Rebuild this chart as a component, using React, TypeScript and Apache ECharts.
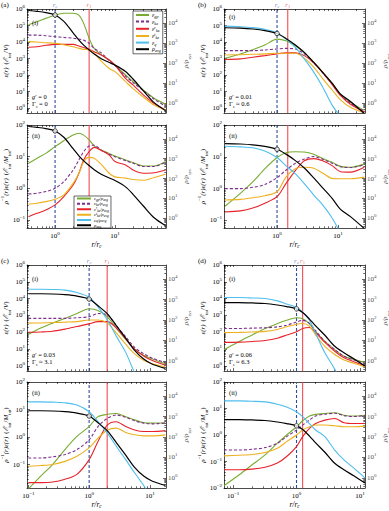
import React, { useEffect, useRef } from 'react';
import * as echarts from 'echarts';

// ---------------- data ----------------
// Panel (a): g' = 0
const xA = [0.36, 0.5, 0.7, 1, 1.4, 2, 2.5, 3, 3.7, 4.5, 6, 8, 10, 15, 20, 30, 45, 70];
const gpA1 = [1.1e5, 1.7e5, 2.7e5, 4.3e5, 5.5e5, 5.5e5, 4.3e5, 1.35e5, 1.7e4, 4.1e3, 1.6e3, 810, 400, 100, 40, 12, 3.9, 1.7];
const keA1 = [2.6e4, 2.6e4, 2.4e4, 2.1e4, 1.9e4, 1.7e4, 1.5e4, 1.3e4, 8.3e3, 4.1e3, 2.1e3, 740, 370, 87, 35, 11, 3.4, 1.3];
const kerA1 = [4.8e3, 5.2e3, 6.3e3, 7.2e3, 7.2e3, 7.2e3, 5.7e3, 4.6e3, 3.6e3, 2.6e3, 1.6e3, 810, 400, 63, 25, 6.1, 1.9, 0.76];
const ketA1 = [1.05e4, 1.0e4, 9.1e3, 8.3e3, 6.9e3, 5.2e3, 4.1e3, 3.6e3, 3.3e3, 2.1e3, 650, 250, 160, 40, 15, 4.5, 1.5, 0.76];
const qA1: number[] = [];
const rhoA = [4.2e4, 3.8e4, 3.3e4, 2.5e4, 1.2e4, 3.2e3, 1.4e3, 780, 450, 280, 160, 107, 79, 38, 16, 4.0, 1.05, 0.42];
const gpA2 = [6.2, 8.9, 12.7, 20.7, 32, 48, 55, 48, 34, 22, 16, 12.7, 10.5, 7.9, 6.5, 5.1, 5.1, 7.0];
const keA2 = [0.66, 0.7, 0.79, 1.0, 1.63, 3.8, 7.9, 14.4, 21.7, 23, 15.5, 12, 10, 7.5, 6.2, 4.9, 4.9, 6.8];
const kerA2 = [0.127, 0.163, 0.207, 0.3, 0.55, 1.27, 3.0, 7.9, 14.4, 19.7, 15.5, 11.3, 7.0, 5.5, 3.8, 3.0, 3.1, 3.8];
const ketA2 = [0.32, 0.34, 0.38, 0.45, 0.62, 1.44, 3.0, 7.0, 9.5, 8.9, 5.5, 3.0, 2.3, 2.1, 1.9, 1.8, 2.2, 2.8];
const qA2: number[] = [];

// Panel (b): g' = 0.01
const xB = [0.14, 0.25, 0.4, 0.63, 1, 1.4, 2, 2.8, 4, 5.6, 8, 11, 16, 27];
const gpB1 = [1.05e3, 1.9e3, 3.4e3, 6.5e3, 1.5e4, 1.2e4, 5.9e3, 2.2e3, 600, 150, 31, 6.8, 2.2, 0.72];
const keB1 = [3.0e3, 3.0e3, 3.0e3, 3.3e3, 3.8e3, 4.1e3, 3.8e3, 1.9e3, 550, 140, 28, 6.2, 1.95, 0.63];
const kerB1 = [870, 950, 1.2e3, 1.5e3, 1.9e3, 2.2e3, 2.2e3, 1.5e3, 550, 140, 27, 5.6, 1.7, 0.57];
const ketB1 = [1.65e3, 1.7e3, 1.8e3, 1.9e3, 2.1e3, 2.1e3, 2.1e3, 1.05e3, 300, 61, 12.4, 3.1, 1.1, 0.5];
const qB1 = [9.2e4, 8.4e4, 7.4e4, 5.8e4, 3.7e4, 1.5e4, 4.7e3, 950, 150, 19, 1.5, 0.3, 0.05, 0.01];
const rhoB = [5.8e3, 5.5e3, 5.0e3, 4.2e3, 3.0e3, 1.7e3, 800, 340, 107, 34, 10, 2.8, 1.2, 0.3];
const gpB2 = [0.28, 0.71, 1.62, 4.2, 9.5, 13.5, 14.5, 14.2, 12.0, 8.8, 6.7, 5.0, 4.7, 5.9];
const keB2 = [1.0, 1.0, 1.1, 1.35, 2.2, 3.8, 6.3, 8.5, 10.2, 8.4, 6.3, 4.9, 4.6, 5.7];
const kerB2 = [0.185, 0.2, 0.245, 0.35, 0.56, 1.44, 3.7, 7.5, 8.8, 7.5, 5.3, 3.4, 3.3, 4.7];
const ketB2 = [0.44, 0.46, 0.52, 0.6, 0.8, 2.3, 4.2, 4.7, 4.4, 3.1, 2.1, 2.05, 2.05, 2.3];
const qB2 = [21.6, 20.6, 19.2, 15.2, 9.5, 5.3, 2.9, 1.44, 0.63, 0.31, 0.12, 0.04, 0.01, 0.003];

// Panel (c): g' = 0.03
const xC = [0.1, 0.16, 0.25, 0.4, 0.63, 1, 1.4, 2, 2.8, 4, 5.6, 8, 11, 18];
const gpC1 = [73, 178, 350, 670, 1.3e3, 2.5e3, 2.0e3, 830, 178, 38, 10, 4.2, 2.6, 1.35];
const keC1 = [670, 670, 670, 670, 730, 840, 1.3e3, 1.05e3, 240, 54, 12.6, 5.2, 2.9, 1.55];
const kerC1 = [100, 105, 115, 155, 220, 316, 430, 430, 178, 41, 10, 3.8, 2.1, 1.1];
const ketC1 = [350, 360, 380, 400, 430, 540, 540, 350, 91, 19.5, 5.2, 2.1, 1.35, 0.87];
const qC1 = [3.6e4, 3.6e4, 3.5e4, 3.2e4, 2.3e4, 1.2e4, 3.2e3, 540, 59, 6.4, 0.4, 0.05, 0.01, 0.001];
const rhoC = [1.95e3, 1.95e3, 1.9e3, 1.75e3, 1.5e3, 1.07e3, 500, 200, 54, 13, 3.3, 1.2, 0.69, 0.43];
const gpC2 = [0.013, 0.038, 0.1, 0.35, 1.05, 2.4, 5.5, 6.7, 7.2, 5.5, 4.2, 3.3, 3.2, 3.3];
const keC2 = [0.173, 0.173, 0.19, 0.23, 0.35, 0.79, 2.4, 4.8, 6.3, 5.2, 3.9, 3.2, 3.0, 3.2];
const kerC2 = [0.022, 0.022, 0.023, 0.029, 0.044, 0.15, 0.69, 2.75, 3.6, 2.4, 1.8, 1.58, 1.58, 1.7];
const ketC2 = [0.087, 0.092, 0.1, 0.13, 0.2, 0.4, 0.91, 1.8, 2.1, 1.46, 1.2, 1.1, 1.1, 1.2];
const qC2 = [19, 19, 18.5, 17.5, 14.5, 8.3, 3.6, 1.38, 0.46, 0.15, 0.05, 0.0166, 0.005, 0.001];

// Panel (d): g' = 0.06
const xD = [0.072, 0.125, 0.2, 0.32, 0.5, 0.7, 1, 1.25, 1.6, 2, 2.8, 4, 5.6, 8, 12];
const gpD1 = [9.3, 28.5, 69, 169, 330, 515, 736, 645, 330, 108, 28.5, 9.3, 3.8, 2.46, 1.58];
const keD1 = [169, 169, 177, 185, 211, 264, 412, 515, 330, 124, 28.5, 9.3, 3.8, 2.25, 1.38];
const kerD1 = [25, 26, 28.5, 32.6, 44.5, 69, 108, 169, 193, 95, 25, 7.5, 3.07, 1.8, 1.0];
const ketD1 = [95, 99, 104, 113, 148, 211, 302, 330, 231, 69, 14.6, 4.8, 2.25, 1.44, 0.88];
const qD1 = [1.16e4, 1.16e4, 1.1e4, 1.02e4, 7.4e3, 4.8e3, 3.05e3, 1.57e3, 515, 87, 6.0, 0.65, 0.05, 0.005, 0.001];
const rhoD = [720, 720, 690, 650, 550, 460, 355, 234, 112, 52, 18, 5.2, 2.5, 1.26, 0.56];
const gpD2 = [0.0122, 0.0316, 0.075, 0.178, 0.49, 1.0, 2.05, 3.45, 5.2, 6.0, 6.5, 6.9, 5.6, 5.2, 5.6];
const keD2 = [0.27, 0.27, 0.29, 0.335, 0.49, 0.87, 1.54, 2.37, 3.65, 5.2, 6.1, 6.6, 5.4, 5.0, 5.4];
const kerD2 = [0.049, 0.049, 0.0516, 0.061, 0.087, 0.154, 0.365, 0.87, 1.78, 2.7, 3.65, 4.2, 2.9, 2.7, 2.7];
const ketD2 = [0.163, 0.173, 0.183, 0.218, 0.316, 0.56, 1.0, 1.54, 2.05, 2.37, 2.37, 2.24, 2.05, 2.05, 2.17];
const qD2 = [19.4, 19.4, 18.8, 17.8, 14.5, 11.5, 7.5, 4.9, 2.7, 1.54, 0.87, 0.27, 0.115, 0.056, 0.024];

// vertical markers r_c (=1) and r_1
const rC = 1;
const r1Values = [3.7, 1.5, 1.98, 1.25];
const gPrime = ['0', '0.01', '0.03', '0.06'];
const gammaS = ['= 0', '≈ 0.6', '≈ 3.1', '≈ 6.3'];
const panelLetters = ['(a)', '(b)', '(c)', '(d)'];

// ---------------- styling / layout ----------------
const SERIF = "'Liberation Serif','DejaVu Serif',serif";
const COLORS = ['#77AC30', '#7E2F8E', '#E8222A', '#EDB120', '#4DBEEE'];
const BLUE = '#2E4C9E';
const BLUE_LABEL = '#4a5fb0';
const RED = '#EE3B42';
const KEYS = ['gp', 'ke', 'ker', 'ket', 'q'];

const COLS = [{ left: 27, width: 139 }, { left: 224, width: 141 }];
const ROWS = [
  { top: 9, height: 104 },
  { top: 125, height: 103 },
  { top: 265, height: 106 },
  { top: 382, height: 106 },
];
const Y1 = [0.5, 1e6];
const RHO_RANGE = [0.32, 5e4];

const PANELS = [
  { x: xA, rho: rhoA, s1: [gpA1, keA1, kerA1, ketA1, qA1], s2: [gpA2, keA2, kerA2, ketA2, qA2], xr: [0.34, 71], y2: [0.056, 100], col: 0, row: 0 },
  { x: xB, rho: rhoB, s1: [gpB1, keB1, kerB1, ketB1, qB1], s2: [gpB2, keB2, kerB2, ketB2, qB2], xr: [0.135, 27.7], y2: [0.058, 100], col: 1, row: 0 },
  { x: xC, rho: rhoC, s1: [gpC1, keC1, kerC1, ketC1, qC1], s2: [gpC2, keC2, kerC2, ketC2, qC2], xr: [0.095, 18.4], y2: [0.014, 100], col: 0, row: 1 },
  { x: xD, rho: rhoD, s1: [gpD1, keD1, kerD1, ketD1, qD1], s2: [gpD2, keD2, kerD2, ketD2, qD2], xr: [0.072, 12], y2: [0.01, 100], col: 1, row: 1 },
];

function rich(size: number, color = '#000', lh = 1.5) {
  const small = size * 0.68;
  return {
    i: { fontFamily: SERIF, fontStyle: 'italic', fontSize: size, lineHeight: size * lh, color },
    n: { fontFamily: SERIF, fontSize: size, lineHeight: size * lh, color },
    s: { fontFamily: SERIF, fontStyle: 'italic', fontSize: small, lineHeight: small * 1.1, verticalAlign: 'bottom', color },
    sn: { fontFamily: SERIF, fontSize: small, lineHeight: small * 1.1, verticalAlign: 'bottom', color },
    p: { fontFamily: SERIF, fontSize: small, lineHeight: small * 1.1, verticalAlign: 'top', color },
    pi: { fontFamily: SERIF, fontStyle: 'italic', fontSize: small, lineHeight: small * 1.1, verticalAlign: 'top', color },
  };
}

function tickRich(color = '#000') {
  return {
    b: { fontFamily: SERIF, fontSize: 7, lineHeight: 10, color },
    e: { fontFamily: SERIF, fontSize: 5, lineHeight: 5, verticalAlign: 'top', color },
  };
}
const powFmt = (v: number) => {
  const e = Math.round(Math.log10(v));
  return '{b|10}{e|' + (e < 0 ? '−' + -e : String(e)) + '}';
};

function logTicks(min: number, max: number) {
  const major: number[] = [];
  const minor: number[] = [];
  for (let e = Math.floor(Math.log10(min)); e <= Math.ceil(Math.log10(max)); e++) {
    const p = Math.pow(10, e);
    if (p >= min * 0.999 && p <= max * 1.001) major.push(p);
    for (let k = 2; k < 10; k++) {
      const v = k * p;
      if (v > min && v < max) minor.push(v);
    }
  }
  return { major, minor };
}

const AXLINE = { show: true, lineStyle: { color: '#000', width: 0.7 } };
const TICKSTYLE = { color: '#000', width: 0.6 };

const LEGEND_LABELS: Record<string, string> = {
  gp1: '{i|ε}{s|gp}',
  ke1: '{i|ε}{s|ke}',
  ker1: '{i|ε}{pi|r}{s|ke}',
  ket1: '{i|ε}{pi|t}{s|ke}',
  q1: '{i|ε}{s|q}',
  rho1: '{i|ρ}{s|avg}',
  gp2: '{i|ε}{s|gp}{i|/ρ}{s|avg}',
  ke2: '{i|ε}{s|ke}{i|/ρ}{s|avg}',
  ker2: '{i|ε}{pi|r}{s|ke}{i|/ρ}{s|avg}',
  ket2: '{i|ε}{pi|t}{s|ke}{i|/ρ}{s|avg}',
  q2: '{i|ε}{s|q}{i|/ρ}{s|avg}',
  rho2: '{i|ρ}{s|avg}',
};

function buildOption() {
  const grid: any[] = [];
  const xAxis: any[] = [];
  const yAxis: any[] = [];
  const series: any[] = [];
  const graphic: any[] = [];

  PANELS.forEach((P, pi) => {
    [1, 2].forEach((k) => {
      const g = pi * 2 + (k - 1);
      const col = COLS[P.col];
      const row = ROWS[P.row * 2 + (k - 1)];
      grid.push({ left: col.left, top: row.top, width: col.width, height: row.height, outerBoundsMode: 'none', containLabel: false });

      // x axes
      const xt = logTicks(P.xr[0], P.xr[1]);
      const showX = k === 2;
      xAxis.push(
        {
          type: 'log', gridIndex: g, min: P.xr[0], max: P.xr[1], position: 'bottom',
          axisLine: AXLINE, splitLine: { show: false },
          axisTick: { show: true, inside: true, length: 3, customValues: xt.major, lineStyle: TICKSTYLE },
          axisLabel: { show: showX, customValues: xt.major, formatter: powFmt, rich: tickRich(), margin: 3 },
          name: showX ? '{i|r/r}{s|c}' : '', nameLocation: 'middle', nameGap: 12, nameMoveOverlap: false,
          nameTextStyle: { rich: rich(7.5, '#000', 1.1) },
        },
        {
          type: 'log', gridIndex: g, min: P.xr[0], max: P.xr[1], position: 'bottom',
          axisLine: { show: false }, splitLine: { show: false },
          axisTick: { show: true, inside: true, length: 1.7, customValues: xt.minor, lineStyle: TICKSTYLE },
          axisLabel: { show: false },
        },
        {
          type: 'log', gridIndex: g, min: P.xr[0], max: P.xr[1], position: 'top',
          axisLine: AXLINE, splitLine: { show: false },
          axisTick: { show: true, inside: true, length: 2, customValues: [...xt.major, ...xt.minor], lineStyle: TICKSTYLE },
          axisLabel: { show: false },
        }
      );

      // y axes
      const ly = k === 1 ? Y1 : P.y2;
      const lt = logTicks(ly[0], ly[1]);
      const rt = logTicks(RHO_RANGE[0], RHO_RANGE[1]);
      const leftName = k === 1
        ? '{i|ε(r)} {n|(}{i|ℰ}{sn|tot}{n|/}{i|V}{n|)}'
        : '{i|ρ}{p|−1}{i|(r)ε(r)} {n|(}{i|ℰ}{sn|tot}{n|/}{i|M}{sn|tot}{n|)}';
      yAxis.push(
        {
          type: 'log', gridIndex: g, min: ly[0], max: ly[1], position: 'left',
          axisLine: AXLINE, splitLine: { show: false },
          axisTick: { show: true, inside: true, length: 3, customValues: lt.major, lineStyle: TICKSTYLE },
          axisLabel: { show: true, customValues: lt.major, formatter: powFmt, rich: tickRich(), margin: 2 },
          name: leftName, nameLocation: 'middle', nameGap: 15, nameRotate: 90, nameMoveOverlap: false,
          nameTextStyle: { rich: rich(7) },
        },
        {
          type: 'log', gridIndex: g, min: ly[0], max: ly[1], position: 'left',
          axisLine: { show: false }, splitLine: { show: false },
          axisTick: { show: true, inside: true, length: 1.7, customValues: lt.minor, lineStyle: TICKSTYLE },
          axisLabel: { show: false },
        },
        {
          type: 'log', gridIndex: g, min: RHO_RANGE[0], max: RHO_RANGE[1], position: 'right',
          axisLine: AXLINE, splitLine: { show: false },
          axisTick: { show: true, inside: true, length: 3, customValues: rt.major, lineStyle: TICKSTYLE },
          axisLabel: { show: true, customValues: rt.major, formatter: powFmt, rich: tickRich('#555'), margin: 2 },
          name: '{i|ρ/ρ}{s|sys}', nameLocation: 'middle', nameGap: 15, nameRotate: 90, nameMoveOverlap: false,
          nameTextStyle: { rich: rich(7, '#555') },
        },
        {
          type: 'log', gridIndex: g, min: RHO_RANGE[0], max: RHO_RANGE[1], position: 'right',
          axisLine: { show: false }, splitLine: { show: false },
          axisTick: { show: true, inside: true, length: 1.7, customValues: rt.minor, lineStyle: TICKSTYLE },
          axisLabel: { show: false },
        }
      );

      const xi = g * 3;
      const yi = g * 4;

      // vertical reference lines r_c and r_1 (drawn first, beneath the curves)
      const vlines = [
        { r: rC, color: BLUE, type: [3, 2], width: 1.1, label: '{i|r}{s|c}', lc: BLUE_LABEL },
        { r: r1Values[pi], color: RED, type: 'solid', width: 1, label: '{i|r}{sn|1}', lc: RED },
      ];
      vlines.forEach((v, vi) => {
        series.push({
          type: 'line', name: 'vline' + g + '_' + vi, xAxisIndex: xi, yAxisIndex: yi,
          data: [[v.r, ly[0]], [v.r, ly[1]]], symbol: 'none', silent: true,
          color: v.color,
          lineStyle: { color: v.color, width: v.width, type: v.type, opacity: 1 }, itemStyle: { color: v.color }, z: 2,
        });
        if (k === 1) {
          series.push({
            type: 'scatter', name: 'vlabel' + g + '_' + vi, xAxisIndex: xi, yAxisIndex: yi,
            data: [[v.r, ly[1]]], symbolSize: 0, silent: true, clip: false,
            itemStyle: { color: v.lc },
            label: { show: true, position: 'top', distance: 0, formatter: v.label, rich: rich(7, v.lc, 1.1) },
          });
        }
      });

      const arrs = k === 1 ? P.s1 : P.s2;
      KEYS.forEach((key, j) => {
        const arr = arrs[j];
        series.push({
          type: 'line', name: key + k, xAxisIndex: xi, yAxisIndex: yi,
          data: arr.length ? P.x.map((x, i) => [x, arr[i]]) : [],
          symbol: 'none', smooth: 0.3, clip: true,
          lineStyle: { color: COLORS[j], width: 1.1, type: key === 'ke' ? [3, 2] : 'solid' },
          itemStyle: { color: COLORS[j] },
          z: 3,
        });
      });
      series.push({
        type: 'line', name: 'rho' + k, xAxisIndex: xi, yAxisIndex: yi + 2,
        data: P.x.map((x, i) => [x, P.rho[i]]),
        symbol: 'none', smooth: 0.3, clip: true,
        lineStyle: { color: '#000', width: 1.2 }, itemStyle: { color: '#000' }, z: 4,
      });
      const idx1 = P.x.indexOf(rC);
      series.push({
        type: 'scatter', name: 'marker' + g, xAxisIndex: xi, yAxisIndex: yi + 2,
        data: [[rC, P.rho[idx1]]], symbol: 'circle', symbolSize: 4.5,
        itemStyle: { color: '#fff', borderColor: '#000', borderWidth: 0.9 }, z: 5, silent: true,
      });

      // (i)/(ii)
      graphic.push({
        type: 'text', left: col.left + 5, top: k === 1 ? row.top + (P.col === 1 && P.row === 0 ? 4 : 10) : row.top + 7,
        style: { text: k === 1 ? '(i)' : '(ii)', font: `6.5px ${SERIF}`, fill: '#000' },
        z: 10,
      });
    });

    // panel letter
    const col = COLS[P.col];
    const topRow = ROWS[P.row * 2];
    graphic.push({
      type: 'text', left: col.left - 26, top: topRow.top - 8,
      style: { text: panelLetters[pi], font: `7px ${SERIF}`, fill: '#000' },
    });
    // g', Gamma annotations
    graphic.push({
      type: 'text', left: col.left + 5, top: topRow.top + topRow.height - 20,
      style: { text: `{i|g}{n|′ = ${gPrime[pi]}}`, rich: rich(6.5) },
    });
    graphic.push({
      type: 'text', left: col.left + 5, top: topRow.top + topRow.height - 13,
      style: { text: `{n|Γ}{s|s}{n| ${gammaS[pi]}}`, rich: rich(6.5) },
    });
  });

  const legendCommon = {
    orient: 'vertical', backgroundColor: '#fff', borderColor: '#000', borderWidth: 0.6, borderRadius: 0,
    selectedMode: false, formatter: (n: string) => LEGEND_LABELS[n] || n,
    itemStyle: { opacity: 0 },
    z: 20,
  };

  return {
    animation: false,
    backgroundColor: '#fff',
    textStyle: { fontFamily: SERIF },
    grid, xAxis, yAxis, series, graphic,
    legend: [
      {
        ...legendCommon,
        data: ['gp1', 'ke1', 'ker1', 'ket1', 'q1', 'rho1'],
        left: 133, top: 11, padding: [1, 2, 1, 2], itemGap: 0, itemWidth: 13, itemHeight: 7.5,
        textStyle: { rich: rich(6, '#000', 1.2), padding: [0, 0, 0, -2] },
      },
      {
        ...legendCommon,
        data: ['gp2', 'ke2', 'ker2', 'ket2', 'q2', 'rho2'],
        left: 74, top: 196, padding: [0, 2, 0, 2], itemGap: 0, itemWidth: 14, itemHeight: 5.5,
        textStyle: { rich: rich(5, '#000', 1.1), padding: [0, 0, 0, -2] },
      },
    ],
  };
}

export default function App() {
  const ref = useRef<HTMLDivElement>(null);
  useEffect(() => {
    if (!ref.current) return;
    const chart = echarts.init(ref.current, undefined, { renderer: 'svg' });
    chart.setOption(buildOption() as any);
    return () => chart.dispose();
  }, []);
  return (
    <div
      ref={ref}
      style={{ position: 'fixed', left: 0, top: 0, width: 389, height: 511, background: '#fff' }}
    />
  );
}
